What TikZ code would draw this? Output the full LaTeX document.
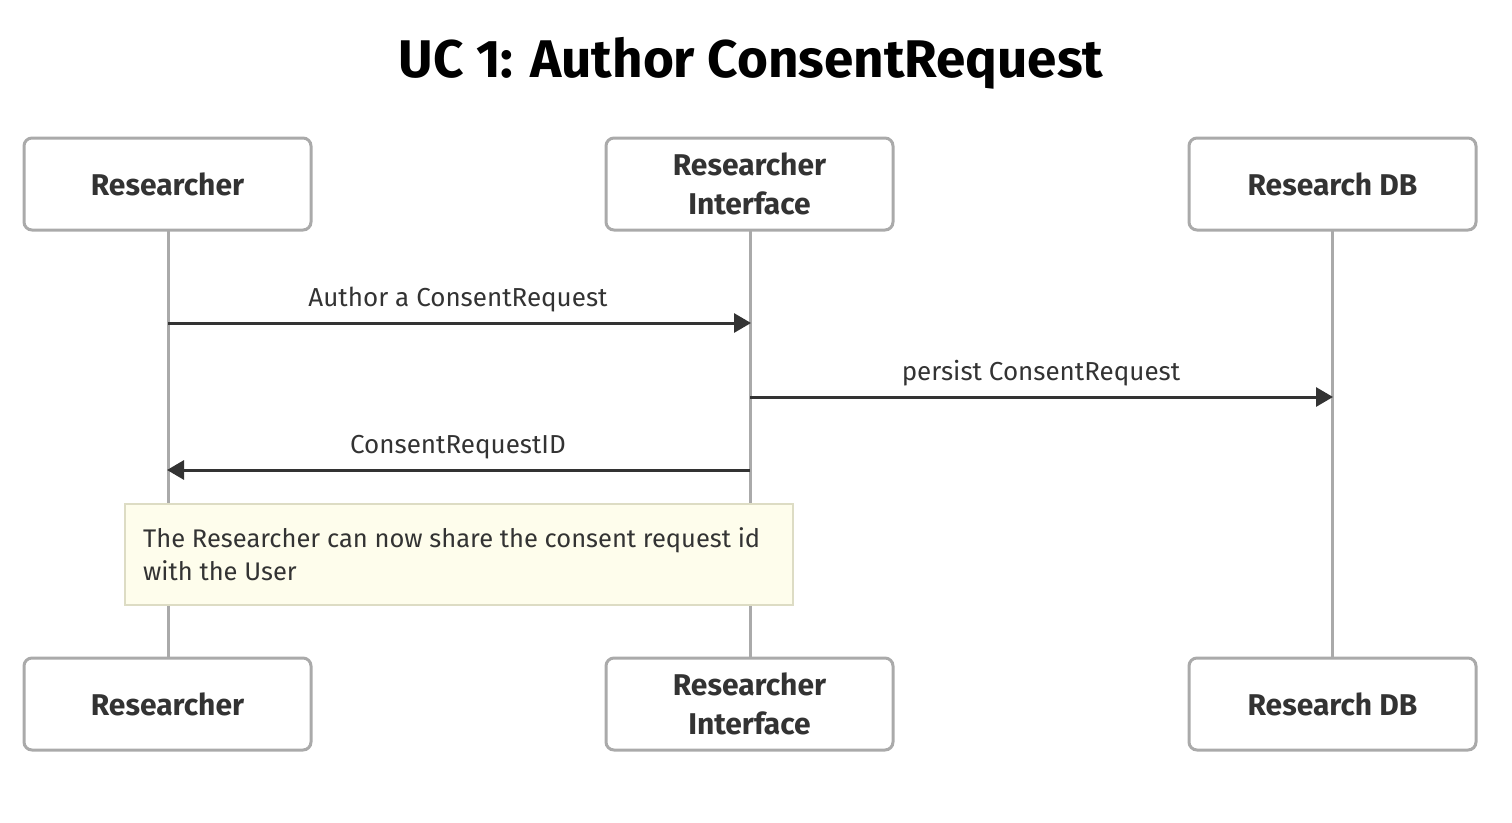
\documentclass[tikz,border=0pt]{standalone}
\usepackage{fontspec}
\setmainfont{Fira Sans}
\usetikzlibrary{arrows.meta}
\definecolor{txt}{HTML}{333333}
\definecolor{boxline}{HTML}{AAAAAA}
\definecolor{notefill}{HTML}{FEFDEC}
\definecolor{noteline}{HTML}{DDDCC4}
\begin{document}
\begin{tikzpicture}[x=1pt,y=-1pt,
  actor/.style={draw=boxline,line width=3pt,rounded corners=8pt,fill=white,minimum width=287pt,minimum height=92pt,inner sep=0pt,font=\fontsize{30}{39}\selectfont\bfseries,text=txt,align=center},
  life/.style={draw=boxline,line width=3pt},
  msg/.style={draw=txt,line width=3pt,-{Triangle[length=17pt,width=19pt]}},
  lbl/.style={font=\fontsize{26}{30}\selectfont,text=txt,inner sep=0pt}]
\useasboundingbox (0,0) rectangle (1512,822);
\node[font=\fontsize{53}{60}\selectfont\bfseries,text=black] (title) at (751,63) {UC 1: Author ConsentRequest};
% lifelines
\coordinate (l1t) at (168,230); \coordinate (l1b) at (168,658);
\coordinate (l2t) at (750,230); \coordinate (l2b) at (750,658);
\coordinate (l3t) at (1332,230); \coordinate (l3b) at (1332,658);
\draw[life] (l1t) -- (l1b);
\draw[life] (l2t) -- (l2b);
\draw[life] (l3t) -- (l3b);
% actors
\node[actor] (a1) at (167.5,184) {Researcher};
\node[actor] (a2) at (749.5,184) {Researcher\\Interface};
\node[actor] (a3) at (1332.5,184) {Research DB};
\node[actor] (b1) at (167.5,704) {Researcher};
\node[actor] (b2) at (749.5,704) {Researcher\\Interface};
\node[actor] (b3) at (1332.5,704) {Research DB};
% messages
\coordinate (m1s) at (168,323); \coordinate (m1e) at (751,323);
\coordinate (m2s) at (750,397); \coordinate (m2e) at (1333,397);
\coordinate (m3s) at (750,470); \coordinate (m3e) at (167,470);
\draw[msg] (m1s) -- (m1e);
\draw[msg] (m2s) -- (m2e);
\draw[msg] (m3s) -- (m3e);
\node[lbl] (t1) at (458,300) {Author a ConsentRequest};
\node[lbl] (t2) at (1041,373) {persist ConsentRequest};
\node[lbl] (t3) at (458,447) {ConsentRequestID};
% note
\node[draw=noteline,line width=1.5pt,fill=notefill,minimum width=668pt,minimum height=101pt,inner sep=0pt] (note) at (459,554.5) {};
\node[lbl,anchor=north west,align=left,font=\fontsize{25.5}{33}\selectfont] (notetext) at (143,527) {The Researcher can now share the consent request id\\with the User};
\end{tikzpicture}
\end{document}
